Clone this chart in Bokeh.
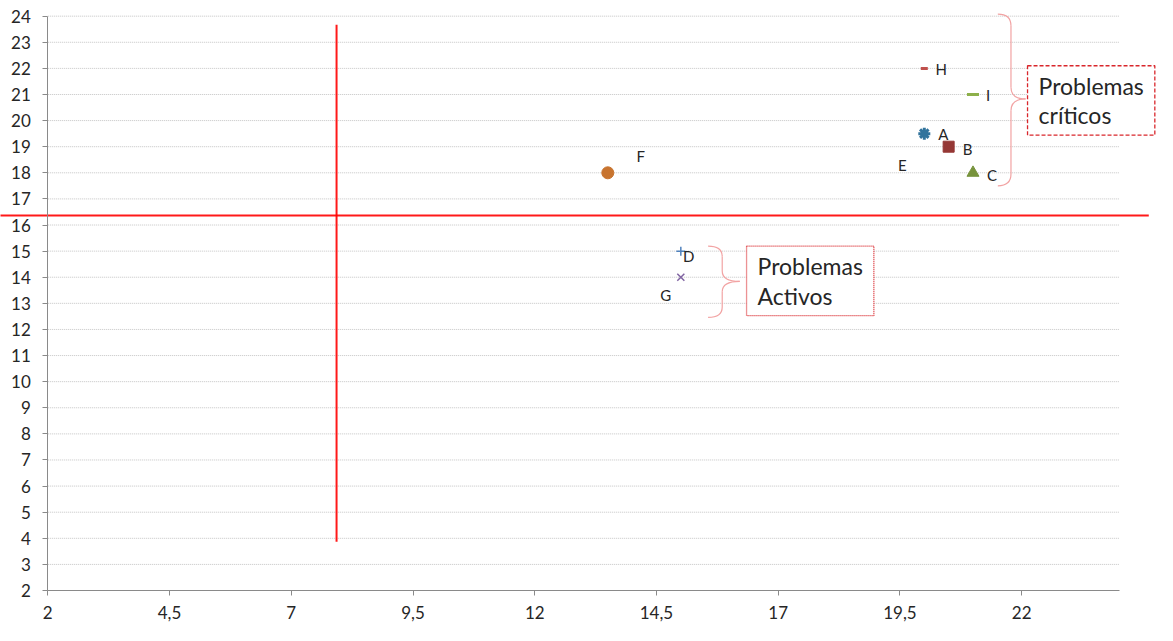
from bokeh.plotting import figure
from bokeh.models import Range1d, FixedTicker, Label, ColumnDataSource
from bokeh.core.properties import value
from bokeh.embed import file_html
from bokeh.resources import INLINE

# ---- data ----
names = ["A", "B", "C", "D", "E", "F", "G", "H", "I"]
xs = [20.0, 20.5, 21.0, 15.0, 19.55, 13.5, 15.0, 20.0, 21.0]
ys = [19.5, 19.0, 18.0, 15.0, 18.3, 18.0, 14.0, 22.0, 21.0]

x_ticks = [2, 4.5, 7, 9.5, 12, 14.5, 17, 19.5, 22]
y_ticks = list(range(2, 25))

v_line_x = 7.93
v_line_y = (3.87, 23.67)
h_line_y = 16.36
h_line_x = (1.0, 24.61)

box_critical_text = "Problemas\ncríticos"
box_active_text = "Problemas\nActivos"

# ---- styles ----
style = {
    "A": dict(marker="asterisk", color="#31739c", size=12, lw=3.0, dx=19, dy=0),
    "B": dict(marker="square", color="#953735", size=11, lw=1, dx=19, dy=2),
    "C": dict(marker="triangle", color="#77933c", size=12, lw=1, dx=19, dy=2),
    "D": dict(marker="cross", color="#4f81bd", size=9, lw=1.5, dx=8, dy=5),
    "E": dict(marker=None, color=None, size=0, lw=0, dx=0, dy=0),
    "F": dict(marker="circle", color="#c8742f", size=12, lw=1, dx=33, dy=-17),
    "G": dict(marker="x", color="#8064a2", size=10, lw=1.5, dx=-15, dy=18),
    "H": dict(marker="dash", color="#c0504d", size=7, lw=3, dx=17, dy=1),
    "I": dict(marker="dash", color="#8db04a", size=12, lw=3, dx=15, dy=1),
}

FONT = "Lato"
TXT = "#262626"
RED = "#ff0000"
BRACE = "#f2a3a3"
AXIS = "#8a8a8a"

p = figure(width=1157, height=625, x_range=Range1d(1.0287, 24.789), y_range=Range1d(0.66, 24.6),
           output_backend="svg", toolbar_location=None,
           min_border_left=0, min_border_right=0, min_border_top=0, min_border_bottom=0)
p.outline_line_color = None
p.background_fill_color = "white"
p.grid.visible = False

for ax in (p.xaxis, p.yaxis):
    ax.axis_line_color = AXIS
    ax.major_tick_line_color = AXIS
    ax.minor_tick_line_color = None
    ax.major_tick_out = 5
    ax.major_tick_in = 0
    ax.major_label_text_font = FONT
    ax.major_label_text_font_size = "17px"
    ax.major_label_text_color = TXT
    ax.bounds = (2, 24)
    ax.fixed_location = 2

p.xaxis.ticker = FixedTicker(ticks=x_ticks)
p.xaxis.major_label_overrides = {t: (str(t).replace(".", ",") if t != int(t) else str(int(t))) for t in x_ticks}
p.xaxis.major_label_standoff = 10
p.yaxis.ticker = FixedTicker(ticks=y_ticks)
p.yaxis.major_label_standoff = 12

# manual horizontal gridlines, bounded to the axis extent
grid_y = y_ticks[1:]
p.segment(x0=[2] * len(grid_y), y0=grid_y, x1=[24] * len(grid_y), y1=grid_y,
          line_color="#c4c4c4", line_dash="1 1", line_width=1)

# ---- red reference lines ----
p.segment(x0=[v_line_x], y0=[v_line_y[0]], x1=[v_line_x], y1=[v_line_y[1]],
          line_color=RED, line_width=2, line_alpha=0.9)
p.segment(x0=[h_line_x[0]], y0=[h_line_y], x1=[h_line_x[1]], y1=[h_line_y],
          line_color=RED, line_width=2, line_alpha=0.9)

# ---- braces ----
def brace(xa, xv, xt, ytop, ybot, ymid, r):
    p.quadratic(x0=[xa, xv, xt, xv], y0=[ytop, ymid + r, ymid, ybot + r],
                x1=[xv, xt, xv, xa], y1=[ytop - r, ymid, ymid - r, ybot],
                cx=[xv] * 4, cy=[ytop, ymid, ymid, ybot],
                line_color=BRACE, line_width=1.2)
    p.segment(x0=[xv, xv], y0=[ytop - r, ymid - r], x1=[xv, xv], y1=[ymid + r, ybot + r],
              line_color=BRACE, line_width=1.2)

brace(21.51, 21.78, 22.08, 24.08, 17.5, 20.83, 0.45)
brace(15.56, 15.85, 16.21, 15.19, 12.46, 13.84, 0.4)

# ---- points ----
for n, x, y in zip(names, xs, ys):
    s = style[n]
    if s["marker"]:
        p.scatter([x], [y], marker=s["marker"], size=s["size"], fill_color=s["color"],
                  line_color=s["color"], line_width=s["lw"])

src = ColumnDataSource(dict(x=xs, y=ys, t=names,
                            dx=[style[n]["dx"] for n in names],
                            dy=[style[n]["dy"] for n in names]))
p.text(x="x", y="y", text="t", x_offset="dx", y_offset="dy", source=src,
       text_font=value(FONT), text_font_size="15px", text_color=TXT,
       text_align="center", text_baseline="middle")

# ---- text boxes ----
pad = dict(top=6, right=11, bottom=6, left=11)
p.add_layout(Label(x=22.12, y=22.1, text=box_critical_text, anchor="top_left",
                   text_font=FONT, text_font_size="23px", text_color=TXT, text_line_height=1.05,
                   background_fill_color="white", border_line_color="#d9262b",
                   border_line_dash="4 2", border_line_width=1.3, padding=pad))
p.add_layout(Label(x=16.35, y=15.19, text=box_active_text, anchor="top_left",
                   text_font=FONT, text_font_size="23px", text_color=TXT, text_line_height=1.05,
                   background_fill_color="white", border_line_color="#d9262b",
                   border_line_dash="1 1", border_line_width=1.3, padding=pad))

open("out.html", "w").write(file_html(p, INLINE))
